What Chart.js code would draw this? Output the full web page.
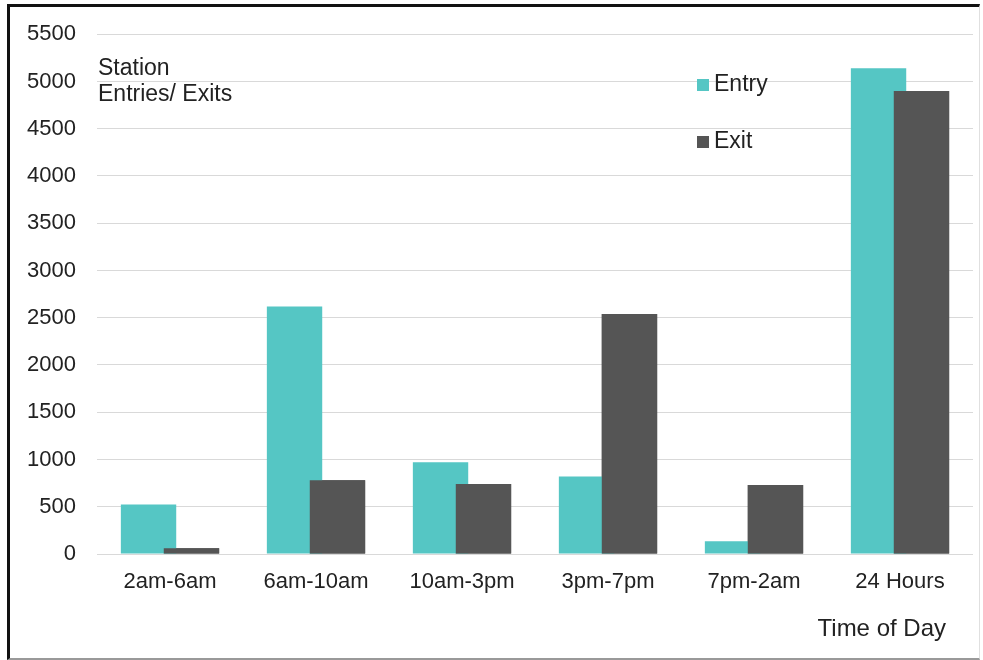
<!DOCTYPE html>
<html>
<head>
<meta charset="utf-8">
<script src="https://cdn.jsdelivr.net/npm/chart.js@4.4.0/dist/chart.umd.min.js"></script>
<style>
  body { margin: 0; background: #fff; }
  #wrap { position: relative; width: 983px; height: 660px; }
  #frame {
    position: absolute; left: 7px; top: 4px; width: 969px; height: 651px;
    border-top: 3px solid #111; border-left: 3px solid #111;
    border-bottom: 2px solid #999; border-right: 1px solid #e0e0e0;
    pointer-events: none;
  }
</style>
</head>
<body>
<div id="wrap">
  <canvas id="mycanvas" width="983" height="660"></canvas>
  <div id="frame"></div>
</div>
<script>
var periods = ['2am-6am', '6am-10am', '10am-3pm', '3pm-7pm', '7pm-2am', '24 Hours'];
var entry = [525, 2620, 970, 820, 135, 5140];
var exit = [60, 780, 740, 2540, 730, 4900];
var yTitle = ['Station', 'Entries/ Exits'];
var xTitle = 'Time of Day';

var TEAL = '#55c6c4';
var DARK = '#555555';
var FONT = '"Liberation Sans", Arial, sans-serif';

// labels, legend and exit-on-top
var extras = {
	id: 'extras',
	afterDatasetsDraw: function(chart) {
		// exit bars sit in front of entry bars where they overlap
		chart.getDatasetMeta(1).controller.draw();
	},
	afterDraw: function(chart) {
		var ctx = chart.ctx;
		ctx.save();
		ctx.fillStyle = '#222';
		ctx.textBaseline = 'alphabetic';
		ctx.textAlign = 'left';
		ctx.font = '23px ' + FONT;
		ctx.fillText(yTitle[0], 98, 75);
		ctx.fillText(yTitle[1], 98, 101);

		ctx.textAlign = 'right';
		ctx.font = '24px ' + FONT;
		ctx.fillText(xTitle, 946, 636);

		// legend
		ctx.textAlign = 'left';
		ctx.font = '23px ' + FONT;
		var ys = [85, 142];
		chart.data.datasets.forEach(function(ds, i) {
			ctx.fillStyle = ds.backgroundColor;
			ctx.fillRect(697, ys[i] - 6, 12, 12);
			ctx.fillStyle = '#222';
			ctx.textBaseline = 'middle';
			ctx.fillText(ds.label, 714, ys[i]);
		});
		ctx.restore();
	}
};

var ctx = document.getElementById('mycanvas');
var barGraph = new Chart(ctx, {
	type: 'bar',
	data: {
		labels: periods,
		datasets: [
			{ label: 'Entry', data: entry, backgroundColor: TEAL },
			{ label: 'Exit', data: exit, backgroundColor: DARK }
		]
	},
	options: {
		responsive: false,
		animation: false,
		layout: { padding: { left: 0, top: 32, right: 10, bottom: 66 } },
		datasets: {
			bar: { categoryPercentage: 0.588, barPercentage: 1.29 }
		},
		plugins: {
			legend: { display: false },
			tooltip: { enabled: false }
		},
		scales: {
			x: {
				grid: { display: false, drawTicks: false },
				border: { display: false },
				ticks: {
					color: '#222',
					padding: 15,
					maxRotation: 0,
					font: { family: FONT, size: 22 }
				},
				afterFit: function(scale) { scale.height = 40; }
			},
			y: {
				min: 0,
				max: 5500,
				grid: { color: '#d9d9d9', drawTicks: false },
				border: { display: false },
				ticks: {
					stepSize: 500,
					color: '#222',
					padding: 21,
					font: { family: FONT, size: 22 },
					callback: function(v) { return String(v); }
				},
				afterFit: function(scale) { scale.width = 97; }
			}
		}
	},
	plugins: [extras]
});
</script>
</body>
</html>
